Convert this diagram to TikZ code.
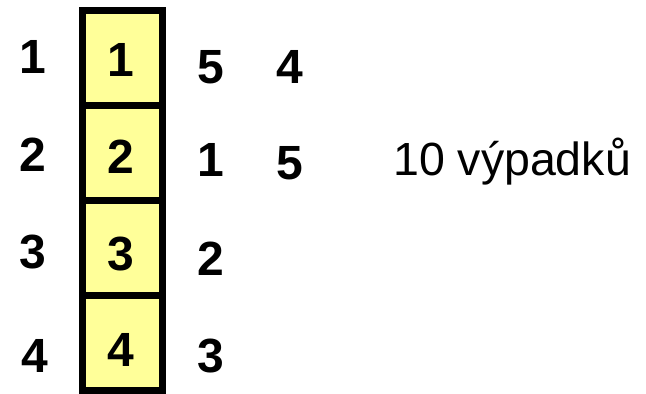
\documentclass[tikz,border=0pt]{standalone}
\usepackage{fontspec}
\setmainfont{Liberation Sans}
\begin{document}
\begin{tikzpicture}[x=1pt,y=-1pt,
  num/.style={font=\fontsize{48}{52}\selectfont\bfseries, inner sep=0pt},
  frame/.style={draw=black, line width=7pt, fill=yellowfill},
]
\definecolor{yellowfill}{HTML}{FFFF99}
\useasboundingbox (0,0) rectangle (646,394);
\foreach \i/\t/\b in {1/10/105,2/105/200,3/200/295,4/295/390}{
  \draw[frame] (82,\t) rectangle (162,\b);
}
% left column
\node[num] (l1) at (33,57) {1};
\node[num] (l2) at (33,155) {2};
\node[num] (l3) at (33,252) {3};
\node[num] (l4) at (35,356) {4};
% box labels
\node[num] (b1) at (121,60) {1};
\node[num] (b2) at (121,157) {2};
\node[num] (b3) at (121,254) {3};
\node[num] (b4) at (121,350) {4};
% third column
\node[num] (c1) at (211,67) {5};
\node[num] (c2) at (211,160) {1};
\node[num] (c3) at (211,259) {2};
\node[num] (c4) at (211,356) {3};
% fourth column
\node[num] (d1) at (290,67) {4};
\node[num] (d2) at (290,163) {5};
% text
\node[font=\fontsize{46.5}{50}\selectfont, inner sep=0pt, anchor=base west] (txt) at (393,175) {10 výpadků};
\end{tikzpicture}
\end{document}
